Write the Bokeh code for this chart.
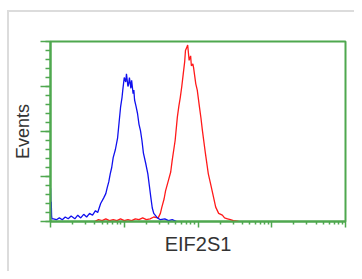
from bokeh.plotting import figure
from bokeh.models import FixedTicker, ColumnDataSource
from bokeh.embed import file_html
from bokeh.resources import INLINE

x_label = "EIF2S1"
y_label = "Events"

# fluorescence channel positions (decades of a 4-decade log scale) and event counts
blue_log = [0.00, 0.005, 0.01, 0.015, 0.02, 0.04, 0.08, 0.12, 0.16, 0.20, 0.24, 0.28, 0.33,
            0.37, 0.41, 0.45, 0.49, 0.53, 0.57, 0.61, 0.64, 0.68, 0.72, 0.75, 0.77, 0.79,
            0.81, 0.83, 0.85, 0.88, 0.91, 0.93, 0.95, 0.97, 0.98, 1.00, 1.02, 1.03, 1.05,
            1.06, 1.07, 1.09, 1.10, 1.12, 1.13, 1.14, 1.16, 1.18, 1.20, 1.22, 1.24, 1.26,
            1.29, 1.32, 1.34, 1.36, 1.38, 1.40, 1.43, 1.45, 1.49, 1.55, 1.60, 1.65, 1.71]
blue_counts = [37, 14, 22, 6, 3, 3, 2, 4, 2, 5, 3, 6, 3,
               7, 4, 8, 5, 9, 7, 12, 10, 20, 26, 31, 38, 44,
               53, 60, 71, 80, 93, 110, 127, 138, 146, 160, 155, 164, 150,
               153, 160, 148, 157, 142, 146, 135, 128, 120, 108, 101, 90, 76,
               65, 53, 40, 27, 15, 9, 6, 4, 2, 3, 1, 2, 0]

red_log = [0.60, 0.65, 0.70, 0.75, 0.80, 0.85, 0.90, 0.95, 1.00, 1.05, 1.10, 1.15, 1.20,
           1.25, 1.30, 1.35, 1.40, 1.46, 1.49, 1.51, 1.54, 1.56, 1.60, 1.63, 1.65, 1.69,
           1.72, 1.74, 1.76, 1.78, 1.80, 1.82, 1.83, 1.85, 1.86, 1.88, 1.90, 1.91, 1.93,
           1.94, 1.97, 1.99, 2.02, 2.04, 2.06, 2.10, 2.14, 2.17, 2.20, 2.24, 2.28, 2.33,
           2.36, 2.40, 2.44, 2.48, 2.55]
red_counts = [0, 2, 1, 3, 1, 2, 1, 3, 1, 2, 1, 3, 2,
              4, 2, 3, 5, 4, 9, 16, 25, 34, 46, 55, 68, 90,
              116, 128, 138, 150, 164, 178, 190, 194, 196, 179, 184, 173, 175,
              171, 153, 146, 127, 115, 101, 76, 53, 42, 31, 16, 9, 7,
              4, 3, 2, 1, 0]

major_x_ticks = [1, 10, 100, 1000, 10000]
major_y_ticks = [0, 50, 100, 150, 200]

GREEN = "#4fa84f"
TEXT = "#333333"
FRAME_GRAY = "#dcdcdc"

p = figure(width=354, height=271, x_axis_type="log", x_range=(1, 10000), y_range=(0, 200),
           output_backend="svg", toolbar_location=None,
           min_border_left=50, min_border_right=9, min_border_top=41, min_border_bottom=50)
p.styles = {
    "background": (f"linear-gradient({FRAME_GRAY}, {FRAME_GRAY}) 7px 10px / 2px calc(100% - 10px) no-repeat, "
                   f"linear-gradient({FRAME_GRAY}, {FRAME_GRAY}) 7px 10px / calc(100% - 7px) 2px no-repeat, "
                   "#ffffff"),
}

blue_src = ColumnDataSource(dict(x=[10 ** v for v in blue_log], y=blue_counts))
red_src = ColumnDataSource(dict(x=[10 ** v for v in red_log], y=red_counts))
p.line("x", "y", source=red_src, line_color="#ff1a1a", line_width=1.3)
p.line("x", "y", source=blue_src, line_color="#1010ee", line_width=1.3)

p.xgrid.visible = False
p.ygrid.visible = False
p.outline_line_color = GREEN
p.outline_line_width = 2
p.background_fill_color = "white"
p.border_fill_color = None

p.xaxis.ticker = FixedTicker(ticks=major_x_ticks,
                             minor_ticks=[m * 10 ** k for k in range(4) for m in range(2, 10)])
p.yaxis.ticker = FixedTicker(ticks=major_y_ticks, minor_ticks=list(range(0, 201, 10)))

for ax in (p.xaxis[0], p.yaxis[0]):
    ax.axis_line_color = GREEN
    ax.axis_line_width = 2
    ax.major_tick_line_color = GREEN
    ax.minor_tick_line_color = GREEN
    ax.major_tick_line_width = 1.5
    ax.minor_tick_line_width = 1.5
    ax.major_tick_in = 0
    ax.minor_tick_in = 0
    ax.major_label_text_font_size = "1px"
    ax.major_label_text_alpha = 0
    ax.major_label_standoff = 0
    ax.axis_label_text_font = "Liberation Sans"
    ax.axis_label_text_font_style = "normal"
    ax.axis_label_text_color = TEXT

p.xaxis.major_tick_out = 6
p.xaxis.minor_tick_out = 3
p.yaxis.major_tick_out = 10
p.yaxis.minor_tick_out = 5

p.xaxis.axis_label = x_label
p.xaxis.axis_label_text_font_size = "20px"
p.xaxis.axis_label_standoff = 5
p.yaxis.axis_label = y_label
p.yaxis.axis_label_text_font_size = "18px"
p.yaxis.axis_label_standoff = 8

open("out.html", "w").write(file_html(p, INLINE))
